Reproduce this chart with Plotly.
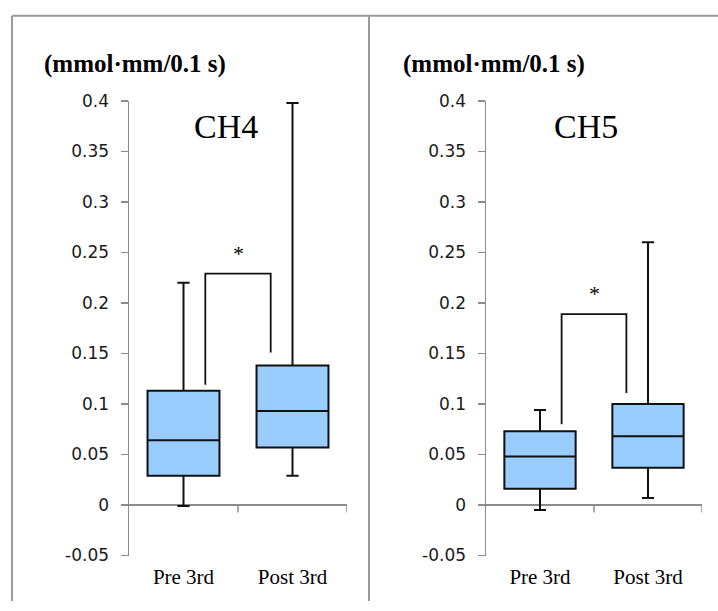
import plotly.graph_objects as go

# ---- data ----
categories = ["Pre 3rd", "Post 3rd"]
panels = ["CH4", "CH5"]
unit_label = "(mmol·mm/0.1 s)"

ch4_q1 = [0.029, 0.057]
ch4_median = [0.064, 0.093]
ch4_q3 = [0.113, 0.138]
ch4_low = [-0.001, 0.029]
ch4_high = [0.220, 0.398]

ch5_q1 = [0.016, 0.037]
ch5_median = [0.048, 0.068]
ch5_q3 = [0.073, 0.100]
ch5_low = [-0.005, 0.007]
ch5_high = [0.094, 0.260]

# significance brackets: [top, left leg bottom, right leg bottom]
ch4_bracket = [0.229, 0.119, 0.151]
ch5_bracket = [0.189, 0.080, 0.111]
sig_label = "*"

y_ticks = [-0.05, 0, 0.05, 0.1, 0.15, 0.2, 0.25, 0.3, 0.35, 0.4]
y_ticktext = ["-0.05", "0", "0.05", "0.1", "0.15", "0.2", "0.25", "0.3", "0.35", "0.4"]

# ---- figure ----
W, H = 718, 611
fig = go.Figure()

FILL = "#99CCFF"
AXIS = "#8c8c8c"
SERIF = "Liberation Serif, Times New Roman, serif"
SANS = "DejaVu Sans, Verdana, sans-serif"

stats = [
    (ch4_q1, ch4_median, ch4_q3, ch4_low, ch4_high, ch4_bracket),
    (ch5_q1, ch5_median, ch5_q3, ch5_low, ch5_high, ch5_bracket),
]
xdomains = [[129 / W, 347 / W], [486 / W, 702 / W]]
ydomain = [(H - 564) / H, (H - 94) / H]
title_x = [0.39, 0.43]
unit_x = [42 / W, 401 / W]

for i, (q1, med, q3, lo, hi, br) in enumerate(stats):
    xa = "x" if i == 0 else "x2"
    ya = "y" if i == 0 else "y2"
    for j, cat in enumerate(categories):
        fig.add_trace(go.Box(
            x=[j], q1=[q1[j]], median=[med[j]], q3=[q3[j]],
            lowerfence=[lo[j]], upperfence=[hi[j]],
            width=0.66, whiskerwidth=0.17,
            fillcolor=FILL, line=dict(color="#111111", width=2),
            boxpoints=False, showlegend=False, hoverinfo="skip",
            xaxis=xa, yaxis=ya,
        ))
    # bracket
    fig.add_trace(go.Scatter(
        x=[0.2, 0.2, 0.8, 0.8], y=[br[1], br[0], br[0], br[2]],
        mode="lines", line=dict(color="#111111", width=1.8),
        showlegend=False, hoverinfo="skip", xaxis=xa, yaxis=ya,
    ))
    fig.add_annotation(x=0.5, y=br[0] + 0.006, xref=xa, yref=ya, text=sig_label,
                       showarrow=False, yanchor="bottom",
                       font=dict(family=SERIF, size=22, color="black"))
    # panel title
    fig.add_annotation(x=title_x[i], y=0.375, xref=xa, yref=ya, text=panels[i],
                       showarrow=False, yanchor="middle",
                       font=dict(family=SERIF, size=34, color="black"))
    # unit label
    fig.add_annotation(x=unit_x[i], y=(H - 56) / H, xref="paper", yref="paper",
                       text="<b>" + unit_label + "</b>", showarrow=False,
                       xanchor="left", yanchor="middle",
                       font=dict(family=SERIF, size=25, color="black"))
    # category tick marks on the zero line
    for tx in [0.5, 1.5]:
        fig.add_shape(type="line", xref=xa, yref=ya, x0=tx, x1=tx, y0=0, y1=-0.0075,
                      line=dict(color=AXIS, width=1.5))

    axis_common = dict(domain=xdomains[i], range=[-0.5, 1.5], tickvals=[0, 1],
                       ticktext=categories, showgrid=False, zeroline=False,
                       showline=False, ticks="", fixedrange=True,
                       ticklabelstandoff=6,
                       tickfont=dict(family=SERIF, size=21, color="black"))
    yaxis_common = dict(domain=ydomain, range=[-0.05, 0.4], tickvals=y_ticks,
                        ticktext=y_ticktext, showgrid=False,
                        zeroline=True, zerolinecolor=AXIS, zerolinewidth=1.5,
                        showline=True, linecolor=AXIS, linewidth=1.5,
                        ticks="outside", ticklen=7, tickcolor=AXIS, tickwidth=1.5,
                        ticklabelstandoff=8, fixedrange=True,
                        tickfont=dict(family=SANS, size=17, color="#1a1a1a"))
    if i == 0:
        fig.update_layout(xaxis=dict(anchor="y", **axis_common),
                          yaxis=dict(anchor="x", **yaxis_common))
    else:
        fig.update_layout(xaxis2=dict(anchor="y2", **axis_common),
                          yaxis2=dict(anchor="x2", **yaxis_common))

# frame lines
frame = "#9a9a9a"
fig.add_shape(type="line", xref="paper", yref="paper", x0=12 / W, x1=1, y0=(H - 6) / H, y1=(H - 6) / H,
              line=dict(color=frame, width=2))
fig.add_shape(type="line", xref="paper", yref="paper", x0=12 / W, x1=12 / W, y0=0, y1=(H - 6) / H,
              line=dict(color=frame, width=2))
fig.add_shape(type="line", xref="paper", yref="paper", x0=369 / W, x1=369 / W, y0=0, y1=(H - 6) / H,
              line=dict(color=frame, width=2))

fig.update_layout(width=W, height=H, margin=dict(l=0, r=0, t=0, b=0),
                  paper_bgcolor="white", plot_bgcolor="white", showlegend=False,
                  boxmode="overlay", hovermode=False)

fig.write_html("out.html", config={"displayModeBar": False, "staticPlot": True},
               post_script="document.body.style.margin='0';document.body.style.overflow='hidden';")
